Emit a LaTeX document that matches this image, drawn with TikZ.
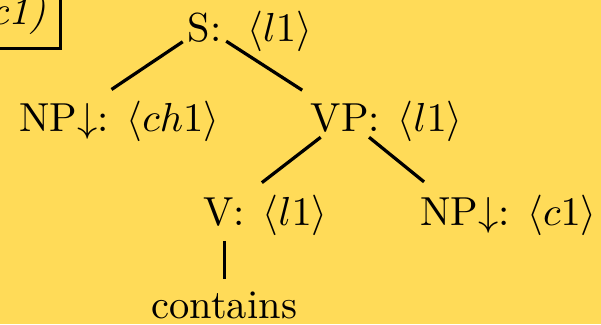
\documentclass[tikz,border=0pt]{standalone}
\usepackage{amsmath,amssymb}
\usepackage{xcolor}
\usepackage{tikz}
\usetikzlibrary{positioning}

\definecolor{treebg}{RGB}{255,219,88}

\begin{document}
\begin{tikzpicture}[
    cat/.style={inner sep=1pt, anchor=base},
    ann/.style={inner sep=1pt},
    edge/.style={thick, shorten >=4pt},
    sem/.style={rectangle, draw, thick, text width=2cm, align=right, inner sep=3.5pt}
]
    \useasboundingbox (0,0) rectangle (5.215,2.812);
    \fill[treebg] (0,0) rectangle (5.215,2.812);

    % semantics box, cut by the left edge
    \node[sem, anchor=south east] (frame) at (0.538,2.378) {\textit{c1)}};

    \node[cat] (s) at (1.774,2.456) {S:};
    \node[cat] (np1) at (0.555,1.671) {NP$\downarrow$:};
    \node[cat] (vp) at (2.998,1.671) {VP:};
    \node[cat] (v) at (1.946,0.859) {V:};
    \node[cat] (np2) at (4.033,0.859) {NP$\downarrow$:};
    \node[cat] (cont) at (1.946,0.044) {contains};

    \node[ann, base right=4pt of s] (s-a) {$\langle l1\rangle$};
    \node[ann, base right=2pt of np1] (np1-a) {$\langle ch1\rangle$};
    \node[ann, base right=2pt of vp] (vp-a) {$\langle l1\rangle$};
    \node[ann, base right=2pt of v] (v-a) {$\langle l1\rangle$};
    \node[ann, base right=2pt of np2] (np2-a) {$\langle c1\rangle$};

    \draw[edge] (s) -- (np1);
    \draw[edge] (s) -- (vp);
    \draw[edge] (vp) -- (v);
    \draw[edge] (vp) -- (np2);
    \draw[edge, shorten <=2.5pt, shorten >=2pt] (v) -- (cont);
\end{tikzpicture}
\end{document}
